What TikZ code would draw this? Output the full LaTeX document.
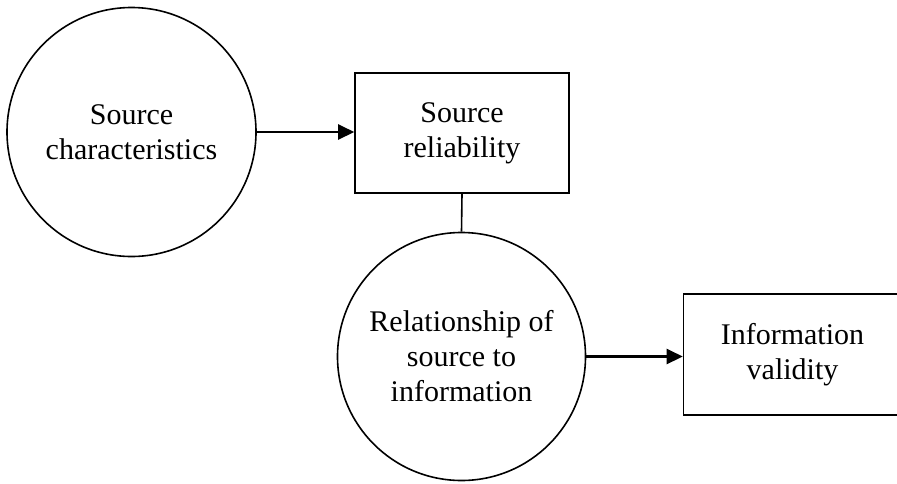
\documentclass[tikz,border=0pt]{standalone}
\usepackage{fontspec}
\setmainfont{Liberation Serif}
\usetikzlibrary{arrows.meta}
\tikzset{
	bubble/.style={draw, line width=1.6pt, circle, minimum size=249pt, inner sep=0pt, align=center, font=\fontsize{30}{35}\selectfont},
	panel/.style={draw, line width=1.6pt, rectangle, inner sep=0pt, align=center, font=\fontsize{30}{35}\selectfont},
	feed/.style={line width=2.5pt, -{Triangle[length=16pt, width=15pt]}}
}

\begin{document}
\begin{tikzpicture}[x=1pt, y=-1pt]
		%%%%% START %%%%%
		\useasboundingbox (0, 0) rectangle (897, 483);
		
		\node[bubble] (src) at (131.5, 132) {Source\\characteristics};
		\node[panel, minimum width=214pt, minimum height=120pt] (rel) at (462, 133) {Source\\reliability};
		
		\node[bubble, minimum size=248pt] (info) at (461.5, 356.5) {Relationship of\\source to\\information};
		\node[panel, minimum width=218pt, minimum height=121pt] (valid) at (792.5, 354.5) {Information\\validity};
		
		\draw[feed] (src.east) -- (src.east -| rel.west);
		\draw[line width=1.6pt] (rel.south) -- (info.north);
		\draw[feed] (info.east) -- (info.east -| valid.west);
		
		%%%%% END %%%%%
	\end{tikzpicture}
\end{document}
